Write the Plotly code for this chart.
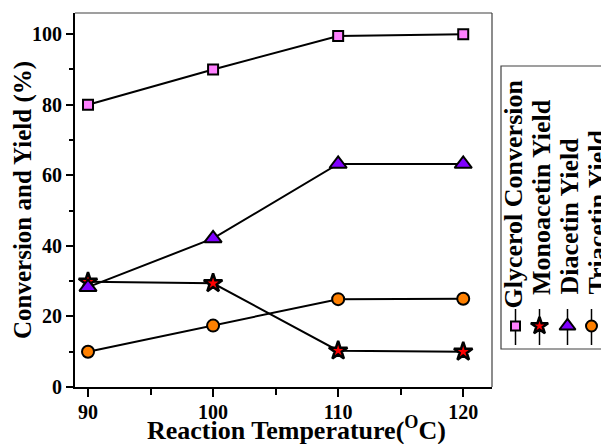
import plotly.graph_objects as go

W, H = 601, 444

temperature = [90, 100, 110, 120]
glycerol_conversion = [80, 90, 99.5, 100]
monoacetin_yield = [29.8, 29.4, 10.3, 10]
diacetin_yield = [28.3, 42.1, 63.2, 63.2]
triacetin_yield = [10, 17.4, 24.9, 25]

series_names = ["Glycerol Conversion", "Monoacetin Yield", "Diacetin Yield", "Triacetin Yield"]
series_values = [glycerol_conversion, monoacetin_yield, diacetin_yield, triacetin_yield]
series_symbols = ["square", "star", "triangle-up", "circle"]
series_colors = ["#ff80ff", "#ff0000", "#8000ff", "#ff8000"]
series_sizes = [10, 14, 15, 12]
series_outline = [2, 2.5, 2, 2]

# plot area in pixels
PL, PR, PT, PB = 75, 492, 13, 387

def px(x):
    return x / W

def py(y):
    return 1 - y / H

FONT = "Liberation Serif"

fig = go.Figure()

for name, vals, sym, col, sz, ow in zip(series_names, series_values, series_symbols, series_colors, series_sizes, series_outline):
    fig.add_trace(go.Scatter(
        x=temperature, y=vals, mode="lines+markers", name=name,
        line=dict(color="black", width=2),
        marker=dict(symbol=sym, color=col, size=sz, line=dict(color="black", width=ow)),
        showlegend=False, xaxis="x", yaxis="y",
    ))

# custom rotated legend
leg_x = [515.5, 539.5, 567.5, 591.5]
leg_text_x = [513, 541, 569, 597]
leg_text_bottom = [311, 297, 297, 297]
for name, sym, col, sz, ow, lx in zip(series_names, series_symbols, series_colors, series_sizes, series_outline, leg_x):
    fig.add_trace(go.Scatter(
        x=[lx, lx], y=[309, 345], mode="lines", line=dict(color="black", width=1.5),
        showlegend=False, xaxis="x2", yaxis="y2", hoverinfo="skip",
    ))
    fig.add_trace(go.Scatter(
        x=[lx], y=[326], mode="markers",
        marker=dict(symbol=sym, color=col, size=sz - 1, line=dict(color="black", width=ow)),
        showlegend=False, xaxis="x2", yaxis="y2", hoverinfo="skip",
    ))

annotations = []
for name, tx, tb in zip(series_names, leg_text_x, leg_text_bottom):
    annotations.append(dict(
        text=name, x=px(tx), y=py(tb), xref="paper", yref="paper",
        xanchor="center", yanchor="bottom", textangle=-90, showarrow=False,
        font=dict(family=FONT, size=26, color="black", weight="bold"),
    ))

annotations.append(dict(
    text="Conversion and Yield (%)", x=px(23), y=py(200), xref="paper", yref="paper",
    xanchor="center", yanchor="middle", textangle=-90, showarrow=False,
    font=dict(family=FONT, size=25, color="black", weight="bold"),
))
annotations.append(dict(
    text="Reaction Temperature(<sup>O</sup>C)", x=px(296), y=py(447), xref="paper", yref="paper",
    xanchor="center", yanchor="bottom", showarrow=False,
    font=dict(family=FONT, size=26, color="black", weight="bold"),
))

shapes = [
    dict(type="line", xref="paper", yref="paper", x0=px(PL), x1=px(PR), y0=py(PT), y1=py(PT),
         line=dict(color="#404040", width=1.2)),
    dict(type="line", xref="paper", yref="paper", x0=px(PR), x1=px(PR), y0=py(PT), y1=py(PB),
         line=dict(color="#404040", width=1.2)),
    dict(type="rect", xref="paper", yref="paper", x0=px(501), x1=px(640), y0=py(66), y1=py(349),
         line=dict(color="#404040", width=1.2)),
]

fig.update_layout(
    width=W, height=H, margin=dict(l=0, r=0, t=0, b=0),
    paper_bgcolor="white", plot_bgcolor="rgba(0,0,0,0)",
    showlegend=False,
    annotations=annotations, shapes=shapes,
    xaxis=dict(
        domain=[px(PL), px(PR)], range=[88.96, 122.3], tickvals=[90, 100, 110, 120],
        showgrid=False, zeroline=False, showline=True, linecolor="black", linewidth=2,
        ticks="outside", ticklen=8, tickwidth=2, tickcolor="black",
        minor=dict(tickvals=[95, 105, 115], ticks="outside", ticklen=6, tickwidth=2, tickcolor="black"),
        tickfont=dict(family=FONT, size=20, color="black", weight="bold"),
        ticklabelstandoff=-2,
        automargin=False, fixedrange=True,
    ),
    yaxis=dict(
        domain=[py(PB), py(PT)], range=[0, 106], tickvals=[0, 20, 40, 60, 80, 100],
        showgrid=False, zeroline=False, showline=True, linecolor="black", linewidth=2,
        ticks="outside", ticklen=7, tickwidth=2, tickcolor="black",
        minor=dict(tickvals=[10, 30, 50, 70, 90], ticks="outside", ticklen=4, tickwidth=2, tickcolor="black"),
        tickfont=dict(family=FONT, size=20, color="black", weight="bold"),
        automargin=False, fixedrange=True,
    ),
    xaxis2=dict(domain=[0, 1], range=[0, W], visible=False, fixedrange=True),
    yaxis2=dict(domain=[0, 1], range=[H, 0], visible=False, fixedrange=True, anchor="x2"),
)

fig.write_html("out.html")
